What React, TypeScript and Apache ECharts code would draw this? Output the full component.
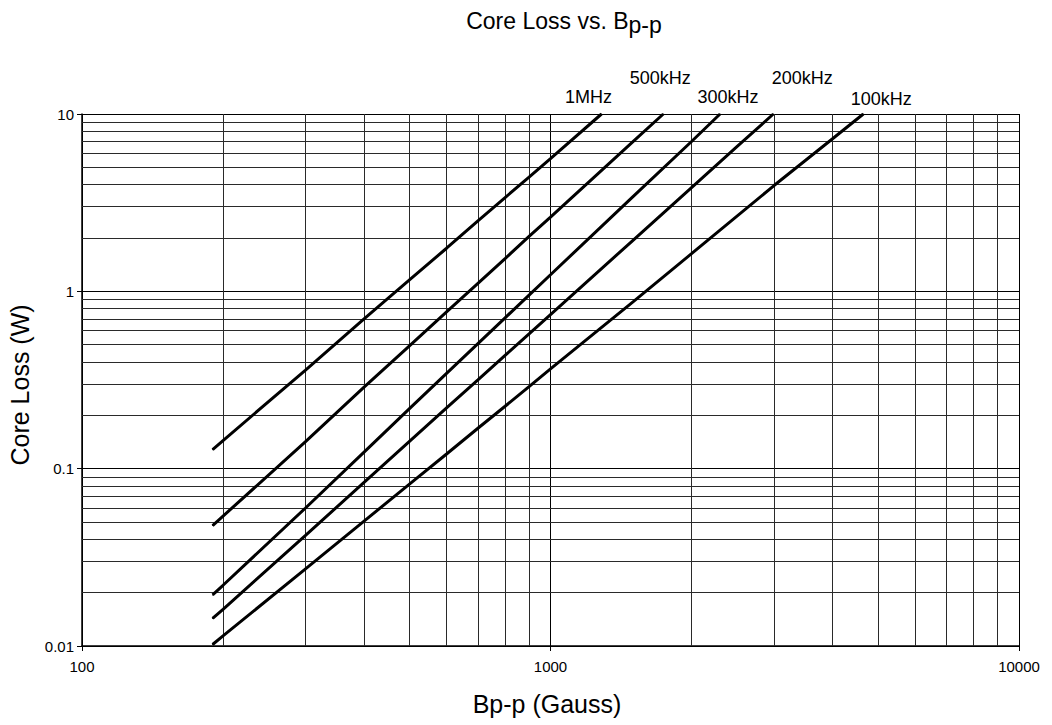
import React, { useEffect, useRef } from "react";
import * as echarts from "echarts";

// Flux density (Gauss) and core loss (W) sampled along each frequency curve
const seriesNames = ["1MHz", "500kHz", "300kHz", "200kHz", "100kHz"];

const bpp1MHz = [190, 200, 300, 400, 500, 600, 700, 800, 900, 1000, 1285];
const loss1MHz = [0.128, 0.144, 0.36, 0.7, 1.16, 1.75, 2.5, 3.38, 4.4, 5.6, 10];

const bpp500k = [190, 200, 300, 400, 500, 600, 700, 800, 900, 1000, 1500, 1741];
const loss500k = [0.0478, 0.054, 0.142, 0.288, 0.493, 0.766, 1.11, 1.53, 2.04, 2.62, 6.98, 10];

const bpp300k = [190, 200, 300, 400, 500, 600, 700, 800, 900, 1000, 1500, 2000, 2301];
const loss300k = [0.0194, 0.022, 0.06, 0.124, 0.218, 0.345, 0.507, 0.709, 0.953, 1.24, 3.42, 7.0, 10];

const bpp200k = [190, 200, 300, 400, 500, 600, 700, 800, 900, 1000, 1500, 2000, 2500, 2990];
const loss200k = [0.0143, 0.0161, 0.042, 0.0838, 0.1425, 0.22, 0.317, 0.436, 0.575, 0.74, 1.94, 3.85, 6.54, 10];

const bpp100k = [190, 200, 300, 400, 500, 600, 700, 800, 900, 1000, 1500, 2000, 3000, 4000, 4653];
const loss100k = [0.0102, 0.0114, 0.0272, 0.0506, 0.0818, 0.121, 0.169, 0.225, 0.29, 0.365, 0.873, 1.63, 3.95, 7.25, 10];

// Minor grid values (2..9 of each decade)
const minorX = [200, 300, 400, 500, 600, 700, 800, 900, 2000, 3000, 4000, 5000, 6000, 7000, 8000, 9000];
const minorY = [
  0.02, 0.03, 0.04, 0.05, 0.06, 0.07, 0.08, 0.09,
  0.2, 0.3, 0.4, 0.5, 0.6, 0.7, 0.8, 0.9,
  2, 3, 4, 5, 6, 7, 8, 9,
];

// Where each curve's frequency tag sits relative to the curve's end point
const labelOffsets: number[][] = [
  [-13, -17],
  [-3, -36],
  [8, -17],
  [29, -36],
  [18, -15],
];

const curvesX = [bpp1MHz, bpp500k, bpp300k, bpp200k, bpp100k];
const curvesY = [loss1MHz, loss500k, loss300k, loss200k, loss100k];

const FONT = "'Liberation Sans', Arial, Helvetica, sans-serif";

export default function App() {
  const ref = useRef<HTMLDivElement>(null);

  useEffect(() => {
    if (!ref.current) return;
    const chart = echarts.init(ref.current, undefined, { renderer: "svg" });

    const series: any[] = seriesNames.map((name, i) => {
      const xs = curvesX[i];
      const ys = curvesY[i];
      const data: any[] = xs.map((x, k) => {
        if (k === xs.length - 1) {
          return {
            value: [x, ys[k]],
            label: {
              show: true,
              formatter: name,
              position: "inside",
              offset: labelOffsets[i],
              align: "center",
              verticalAlign: "middle",
              fontFamily: FONT,
              fontSize: 18,
              color: "#000",
            },
          };
        }
        return [x, ys[k]];
      });
      const s: any = {
        name,
        type: "line",
        data,
        z: 3,
        symbol: "circle",
        symbolSize: 1,
        showSymbol: true,
        itemStyle: { color: "#000" },
        lineStyle: { color: "#000", width: 3 },
        emphasis: { disabled: true },
      };
      if (i === 0) {
        s.markLine = {
          silent: true,
          z: 1,
          symbol: ["none", "none"],
          label: { show: false },
          lineStyle: { color: "#2a2a2a", width: 1, type: "solid" },
          emphasis: { disabled: true },
          data: [
            ...minorX.map((v) => ({ xAxis: v })),
            ...minorY.map((v) => ({ yAxis: v })),
          ],
        };
      }
      return s;
    });

    chart.setOption({
      animation: false,
      backgroundColor: "#fff",
      grid: { left: 82, right: 33, top: 114, bottom: 79, containLabel: false },
      xAxis: {
        type: "log",
        logBase: 10,
        min: 100,
        max: 10000,
        axisLine: { show: true, onZero: false, lineStyle: { color: "#000", width: 1.5 } },
        axisTick: { show: true, length: 5, lineStyle: { color: "#000" } },
        axisLabel: {
          margin: 13,
          fontFamily: FONT,
          fontSize: 15,
          color: "#000",
          formatter: (v: number) => String(Math.round(v)),
        },
        splitLine: { show: true, lineStyle: { color: "#000", width: 1 } },
        minorTick: { show: false },
        minorSplitLine: { show: false },
      },
      yAxis: {
        type: "log",
        logBase: 10,
        min: 0.01,
        max: 10,
        axisLine: { show: true, onZero: false, lineStyle: { color: "#000", width: 1.5 } },
        axisTick: { show: true, length: 5, lineStyle: { color: "#000" } },
        axisLabel: {
          margin: 8,
          fontFamily: FONT,
          fontSize: 15,
          color: "#000",
          formatter: (v: number) => String(+v.toPrecision(6)),
        },
        splitLine: { show: true, lineStyle: { color: "#000", width: 1 } },
        minorTick: { show: false },
        minorSplitLine: { show: false },
      },
      graphic: [
        {
          type: "text",
          x: 564,
          y: 21,
          style: {
            text: "{a|Core Loss vs. B}{b|p-p}",
            align: "center",
            verticalAlign: "middle",
            fill: "#000",
            rich: {
              a: { fontFamily: FONT, fontSize: 23, lineHeight: 30, verticalAlign: "middle", color: "#000" },
              b: { fontFamily: FONT, fontSize: 23, lineHeight: 22, verticalAlign: "bottom", color: "#000" },
            },
          },
        },
        {
          type: "text",
          x: 547,
          y: 704,
          style: {
            text: "Bp-p (Gauss)",
            align: "center",
            verticalAlign: "middle",
            fontFamily: FONT,
            fontSize: 25,
            fill: "#000",
          },
        },
        {
          type: "text",
          x: 20,
          y: 385,
          rotation: Math.PI / 2,
          style: {
            text: "Core Loss (W)",
            align: "center",
            verticalAlign: "middle",
            fontFamily: FONT,
            fontSize: 25,
            fill: "#000",
          },
        },
      ],
      series,
    });

    return () => chart.dispose();
  }, []);

  return (
    <div
      ref={ref}
      style={{ position: "fixed", left: 0, top: 0, width: 1052, height: 725, background: "#fff" }}
    />
  );
}
